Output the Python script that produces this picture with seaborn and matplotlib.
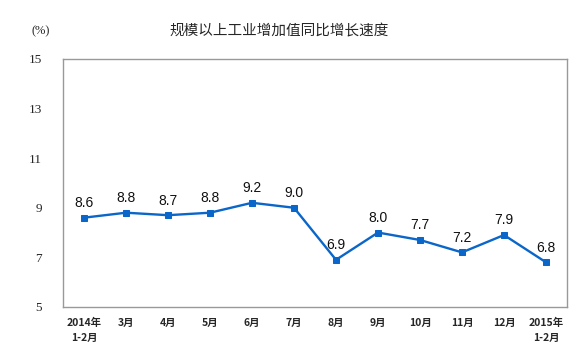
import numpy as np
import pandas as pd
import seaborn as sns
import matplotlib.pyplot as plt

months = ["2014年\n1-2月", "3月", "4月", "5月", "6月", "7月",
          "8月", "9月", "10月", "11月", "12月", "2015年\n1-2月"]
growth = [8.6, 8.8, 8.7, 8.8, 9.2, 9.0, 6.9, 8.0, 7.7, 7.2, 7.9, 6.8]
yticks = [5, 7, 9, 11, 13, 15]

sns.set_style("white")
plt.rcParams["font.family"] = ["Noto Sans CJK SC", "DejaVu Sans"]

df = pd.DataFrame({"pos": np.arange(len(months)), "growth": growth})

fig = plt.figure(figsize=(5.75, 3.52), dpi=100)
ax = fig.add_axes([0.1096, 0.128, 0.8765, 0.7045])

blue = "#0a66c8"
sns.lineplot(data=df, x="pos", y="growth", ax=ax, color=blue, lw=1.7,
             marker="s", markersize=4.8, markeredgecolor=blue)

for x, y in zip(df.pos, df.growth):
    ax.annotate(f"{y:.1f}", (x, y), xytext=(0, 5.5), textcoords="offset points",
                ha="center", va="bottom", fontsize=10,
                family="Liberation Sans", color="#111111")

ax.set_xlim(-0.5, len(months) - 0.5)
ax.set_ylim(5, 15)
ax.set_yticks(yticks)
ax.set_yticklabels([str(t) for t in yticks], family="Liberation Serif", fontsize=9.5)
ax.set_xticks(np.arange(len(months)))
ax.set_xticklabels(months, fontsize=7.5, fontweight="bold", linespacing=1.55)
ax.set_xticks(np.arange(len(months) - 1) + 0.5, minor=True)
ax.tick_params(axis="x", which="major", length=0, pad=8)
ax.tick_params(axis="x", which="minor", direction="in", length=3, color="#888888")
ax.tick_params(axis="y", direction="in", length=3, color="#888888", pad=15)
ax.set_xlabel("")
ax.set_ylabel("")
for s in ax.spines.values():
    s.set_color("#999999")
    s.set_linewidth(1)

fig.text(0.485, 0.912, "规模以上工业增加值同比增长速度", ha="center", va="center", fontsize=10.5)
fig.text(0.07, 0.91, "(%)", ha="center", va="center", family="Liberation Serif", fontsize=9)

fig.savefig("out.png", dpi=100)
